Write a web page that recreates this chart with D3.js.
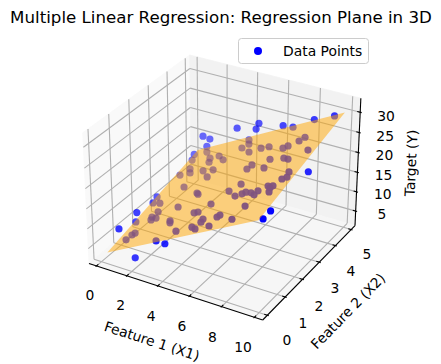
<!DOCTYPE html>
<html>
<head>
<meta charset="utf-8">
<script src="https://cdn.jsdelivr.net/npm/d3@7"></script>
<style>
body { margin: 0; background: #fff; }
text { font-family: "DejaVu Sans", sans-serif; fill: #000; }
</style>
</head>
<body>
<svg id="chart" width="441" height="364"></svg>
<script>
const x1Ticks = [0, 2, 4, 6, 8, 10];
const x2Ticks = [0, 1, 2, 3, 4, 5];
const yTicks = [5, 10, 15, 20, 25, 30];
const x1Lim = [-0.5, 10.5], x2Lim = [-0.25, 5.25], yLim = [1.2, 33.4];

// fitted plane: y = 3 + 2.05 x1 + 1.44 x2
const planeIntercept = 3, planeB1 = 2.05, planeB2 = 1.44;
const planeX1 = [0.35, 9.85], planeX2 = [0.05, 4.95];

// data points
const x1Values = [1.01,1.01,0.34,0.30,1.80,2.04,2.45,3.13,3.04,2.23,0.88,1.22,0.47,3.07,3.85,3.84,4.15,4.77,5.87,6.00,6.65,8.35,8.14,9.46,7.60,7.33,6.10,5.50,7.05,8.10,8.49,7.19,6.46,5.98,6.81,7.23,7.41,7.87,8.24,8.28,8.73,9.11,9.01,9.19,3.45,3.61,5.44,8.27,4.70,4.95,6.83,6.93,8.13,5.86,5.91,6.82,5.54,5.92,9.43,9.60,9.34,1.83,0.22,0.36,0.99,2.90,1.55,1.42,1.85,1.58,3.29,3.44,1.22,1.11,0.99,3.62,4.53,0.75,1.16,3.05,4.45,4.38,6.28,8.16,9.36,9.48,9.73,9.66,3.81,1.76,0.65,0.70,0.38];
const x2Values = [4.92,4.92,4.75,4.66,4.43,4.17,4.40,4.04,3.55,3.67,4.06,3.78,3.83,3.19,4.50,4.92,4.64,4.09,2.99,3.16,4.95,4.04,3.89,3.14,3.76,3.72,4.05,4.13,3.23,3.05,2.92,2.76,2.14,1.90,1.50,1.51,1.56,1.43,1.26,1.44,1.58,1.50,1.43,1.21,2.31,2.23,1.39,0.75,1.11,1.11,0.52,0.59,0.18,0.61,0.46,0.11,0.30,0.14,2.09,1.82,1.78,2.94,2.76,2.43,2.30,1.74,1.76,1.54,1.41,1.36,1.00,0.87,0.81,0.73,0.52,0.01,0.30,4.92,4.97,4.92,4.95,4.85,4.70,4.77,4.81,3.18,0.81,0.47,0.30,0.37,0.44,1.32,1.50];
const yValues = [12.6,11.1,10.4,9.2,12.2,12.4,13.6,14.7,13.9,12.3,9.8,10.2,8.6,13.5,16.8,17.3,17.6,18.3,19.4,19.9,23.4,26.0,25.4,27.4,24.1,23.4,21.2,19.9,22.2,24.3,25.0,22.0,19.6,18.3,19.6,20.6,21.0,21.9,22.5,22.8,23.9,24.7,24.4,24.5,13.3,13.5,16.5,21.9,14.6,15.1,18.5,18.8,20.9,16.5,16.4,18.0,15.4,16.1,26.1,26.1,25.5,10.5,6.8,6.7,7.9,11.4,8.5,7.9,8.7,8.1,11.4,11.6,6.6,6.3,5.8,10.9,13.2,15.0,14.5,19.5,22.1,20.9,24.3,27.5,29.5,22.0,22.2,21.6,9.2,2.8,8.5,9.1,5.6];

const svg = d3.select('#chart');
const xs = d3.scaleLinear().domain(x1Lim).range([0, 1.19]);
const ys = d3.scaleLinear().domain(x2Lim).range([0, 1.19]);
const zs = d3.scaleLinear().domain(yLim).range([0, 0.893]);

// same camera as mplot3d: elev 30, azim -60, dist 10
const el = 30 * Math.PI / 180, az = -60 * Math.PI / 180, dist = 10;
const R = [0.595, 0.595, 0.4465];
const w = [Math.cos(el) * Math.cos(az), Math.cos(el) * Math.sin(az), Math.sin(el)];
const eye = R.map((r, i) => r + dist * w[i]);
const cross = (a, b) => [a[1]*b[2]-a[2]*b[1], a[2]*b[0]-a[0]*b[2], a[0]*b[1]-a[1]*b[0]];
const dot = (a, b) => a[0]*b[0] + a[1]*b[1] + a[2]*b[2];
let u = cross([0, 0, 1], w);
const uLen = Math.sqrt(dot(u, u));
u = u.map(d => d / uLen);
const v = cross(w, u);

function view(a, b, c) {
	const p = [xs(a) - eye[0], ys(b) - eye[1], zs(c) - eye[2]];
	const depth = -dot(p, w);
	return [dot(p, u) / depth, dot(p, v) / depth, depth];
}
const px = d3.scaleLinear()
	.domain([view(x1Lim[0], x2Lim[0], yLim[0])[0], view(x1Lim[1], x2Lim[1], yLim[0])[0]])
	.range([89, 355]);
const py = d3.scaleLinear()
	.domain([view(x1Lim[1], x2Lim[0], yLim[0])[1], view(x1Lim[0], x2Lim[1], yLim[1])[1]])
	.range([320, 55]);
function project(a, b, c) {
	const q = view(a, b, c);
	return [px(q[0]), py(q[1])];
}
const line = d3.line();

function pane(pts, fill) {
	svg.append('path').attr('d', line(pts.map(d => project(...d))) + 'Z').attr('fill', fill).attr('stroke', fill).attr('stroke-width', 0.8);
}
function seg(a, b, color, width) {
	svg.append('path').attr('d', line([project(...a), project(...b)])).attr('fill', 'none').attr('stroke', color).attr('stroke-width', width);
}
const [a0, a1] = x1Lim, [b0, b1] = x2Lim, [c0, c1] = yLim;
pane([[a0,b0,c0],[a0,b1,c0],[a0,b1,c1],[a0,b0,c1]], '#f9f9f9');
pane([[a0,b1,c0],[a1,b1,c0],[a1,b1,c1],[a0,b1,c1]], '#f2f2f2');
pane([[a0,b0,c0],[a1,b0,c0],[a1,b1,c0],[a0,b1,c0]], '#f6f6f6');

const gridColor = '#b0b0b0';
x1Ticks.forEach(t => { seg([t,b0,c0],[t,b1,c0],gridColor,1.1); seg([t,b1,c0],[t,b1,c1],gridColor,1.1); });
x2Ticks.forEach(t => { seg([a0,t,c0],[a1,t,c0],gridColor,1.1); seg([a0,t,c0],[a0,t,c1],gridColor,1.1); });
yTicks.forEach(t => { seg([a0,b0,t],[a0,b1,t],gridColor,1.1); seg([a0,b1,t],[a1,b1,t],gridColor,1.1); });

seg([a0,b0,c0],[a1,b0,c0],'#000',1.1);
seg([a1,b0,c0],[a1,b1,c0],'#000',1.1);
seg([a1,b1,c0],[a1,b1,c1],'#000',1.1);

const dx = (a1 - a0) / 120, dy = (b1 - b0) / 120;
x1Ticks.forEach(t => seg([t,b0+2*dy,c0],[t,b0-dy,c0],'#000',1.1));
x2Ticks.forEach(t => seg([a1-2*dx,t,c0],[a1+dx,t,c0],'#000',1.1));
yTicks.forEach(t => seg([a1-2*dx,b1,t],[a1+dx,b1,t],'#000',1.1));

function label(str, x, y, size, rot) {
	svg.append('text').attr('text-anchor', 'middle').attr('font-size', size).attr('dy', '0.36em')
		.attr('transform', 'translate(' + x + ',' + y + ') rotate(' + (rot || 0) + ')')
		.text(str);
}
const x1LabelX = d3.scaleLinear().domain([0, 10]).range([90, 243]), x1LabelY = d3.scaleLinear().domain([0, 10]).range([295, 347]);
const x2LabelX = d3.scaleLinear().domain([0, 5]).range([287, 367]), x2LabelY = d3.scaleLinear().domain([0, 5]).range([340, 254]);
const yLabelX = d3.scaleLinear().domain([5, 30]).range([382, 386]), yLabelY = d3.scaleLinear().domain([5, 30]).range([214, 116]);
x1Ticks.forEach(t => label(t, x1LabelX(t), x1LabelY(t), 13.89));
x2Ticks.forEach(t => label(t, x2LabelX(t), x2LabelY(t), 13.89));
yTicks.forEach(t => label(t, yLabelX(t), yLabelY(t), 13.89));
label('Feature 1 (X1)', 152, 341, 13.89, 18);
label('Feature 2 (X2)', 348, 311, 13.89, -45.6);
label('Target (Y)', 411, 163, 13.89, -87.3);
label('Multiple Linear Regression: Regression Plane in 3D', 221, 17, 16.67);

// points first, back to front, faded with depth; the plane is painted over them
const points = x1Values.map((d, i) => {
	const q = view(d, x2Values[i], yValues[i]);
	return { pos: project(d, x2Values[i], yValues[i]), depth: q[2] };
}).sort((p, q) => q.depth - p.depth);
const shade = d3.scaleLinear().domain(d3.extent(points, d => d.depth)).range([1, 0.55]);
svg.append('g').selectAll('circle').data(points).join('circle')
	.attr('cx', d => d.pos[0]).attr('cy', d => d.pos[1]).attr('r', 3.6)
	.attr('fill', 'blue').attr('fill-opacity', d => shade(d.depth));

const planeZ = (a, b) => planeIntercept + planeB1 * a + planeB2 * b;
const corners = [[planeX1[0],planeX2[0]],[planeX1[1],planeX2[0]],[planeX1[1],planeX2[1]],[planeX1[0],planeX2[1]]];
svg.append('path')
	.attr('d', line(corners.map(d => project(d[0], d[1], planeZ(d[0], d[1])))) + 'Z')
	.attr('fill', 'orange').attr('fill-opacity', 0.5);

svg.append('rect').attr('x', 238.5).attr('y', 38.5).attr('width', 130).attr('height', 25).attr('rx', 3).attr('fill', '#fff').attr('stroke', '#ccc');
svg.append('circle').attr('cx', 258).attr('cy', 51).attr('r', 4).attr('fill', 'blue');
svg.append('text').attr('x', 283).attr('y', 56).attr('font-size', 13.89).text('Data Points');
</script>
</body>
</html>
